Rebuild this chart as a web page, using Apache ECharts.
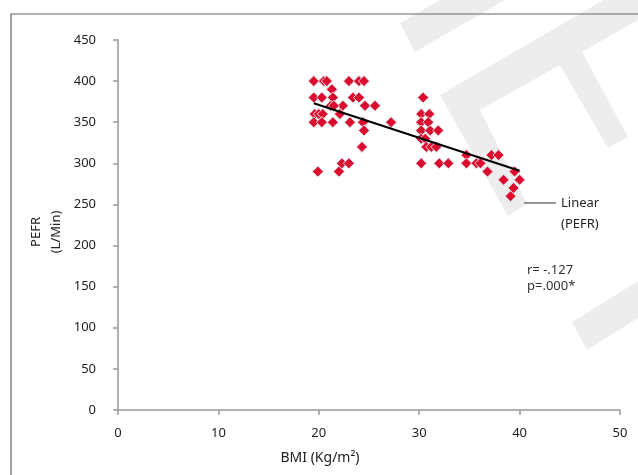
<!DOCTYPE html>
<html>
<head>
<meta charset="utf-8">
<script src="https://cdn.jsdelivr.net/npm/echarts@6/dist/echarts.min.js"></script>
<style>
html,body{margin:0;padding:0;background:#fff;}
#chart{width:638px;height:475px;}
</style>
</head>
<body>
<div id="chart"></div>
<script>
// BMI (x) and PEFR (y) values
const bmi  = [19.5,20.5,20.8,23.0,24.0,24.5,
              21.3,
              19.5,20.3,21.4,23.4,24.0,30.4,
              21.2,22.4,24.6,25.6,21.5,
              19.6,20.0,20.4,22.1,30.2,31.0,
              19.5,20.3,21.4,23.1,24.4,27.2,30.2,30.9,
              24.5,30.2,31.1,31.9,
              30.2,30.6,
              24.3,30.7,31.2,31.7,
              34.7,37.2,37.9,
              22.3,23.0,30.2,32.0,32.9,34.7,35.7,36.1,
              19.9,22.0,36.8,39.5,
              38.4,40.0,
              39.4,
              39.1];
const pefr = [400,400,400,400,400,400,
              390,
              380,380,380,380,380,380,
              370,370,370,370,370,
              360,360,360,360,360,360,
              350,350,350,350,350,350,350,350,
              340,340,340,340,
              330,330,
              320,320,320,320,
              310,310,310,
              300,300,300,300,300,300,300,300,
              290,290,290,290,
              280,280,
              270,
              260];
// Linear trend line end points
const trendX = [19.5, 40];
const trendY = [373, 291];
const xTicks = [0, 10, 20, 30, 40, 50];
const yTicks = [0, 50, 100, 150, 200, 250, 300, 350, 400, 450];

const points = bmi.map((v, i) => [v, pefr[i]]);
const trend = trendX.map((v, i) => [v, trendY[i]]);

const FONT = 'Noto Sans';
const wm = '#ededed';

const chart = echarts.init(document.getElementById('chart'), null, {renderer: 'canvas'});
chart.setOption({
  animation: false,
  backgroundColor: '#fff',
  textStyle: {fontFamily: FONT},
  grid: {left: 118, right: 18, top: 40, bottom: 65, containLabel: false},
  xAxis: {
    type: 'value', min: xTicks[0], max: xTicks[xTicks.length - 1], interval: 10,
    splitLine: {show: false},
    axisLine: {show: true, lineStyle: {color: '#999', width: 1.5}},
    axisTick: {show: true, length: 5, lineStyle: {color: '#999', width: 1.5}},
    axisLabel: {color: '#222', fontSize: 13, margin: 17, fontFamily: FONT}
  },
  yAxis: {
    type: 'value', min: yTicks[0], max: yTicks[yTicks.length - 1], interval: 50,
    splitLine: {show: false},
    axisLine: {show: true, lineStyle: {color: '#999', width: 1.5}},
    axisTick: {show: true, length: 5, lineStyle: {color: '#999', width: 1.5}},
    axisLabel: {color: '#222', fontSize: 13, margin: 22, fontFamily: FONT}
  },
  graphic: [
    {type: 'polygon', z: -10, silent: true,
     shape: {points: [[400,23],[440,0],[505,0],[415,52]]},
     style: {fill: wm}},
    {type: 'polygon', z: -10, silent: true,
     shape: {points: [[440,95],[638,-20],[638,20],[582,52],[628,137],[608,148],[560,65],[480,110],[527,204],[508,216]]},
     style: {fill: wm}},
    {type: 'polygon', z: -10, silent: true,
     shape: {points: [[572,322],[638,281],[638,318],[587,350]]},
     style: {fill: wm}},
    {type: 'rect', z: 0, silent: true,
     shape: {x: 11, y: 14, width: 800, height: 600},
     style: {fill: null, stroke: '#666', lineWidth: 1.2}},
    {type: 'line', z: 5, silent: true,
     shape: {x1: 524, y1: 203, x2: 556, y2: 203},
     style: {stroke: '#777', lineWidth: 1.5}},
    {type: 'text', z: 5, x: 561, y: 203,
     style: {text: 'Linear', fill: '#222', font: '13px "Noto Sans"', verticalAlign: 'middle', align: 'left'}},
    {type: 'text', z: 5, x: 561, y: 224,
     style: {text: '(PEFR)', fill: '#222', font: '13px "Noto Sans"', verticalAlign: 'middle', align: 'left'}},
    {type: 'text', z: 5, x: 527, y: 270,
     style: {text: 'r= -.127', fill: '#333', font: '13px "Noto Sans"', verticalAlign: 'middle', align: 'left'}},
    {type: 'text', z: 5, x: 527, y: 286,
     style: {text: 'p=.000*', fill: '#333', font: '13px "Noto Sans"', verticalAlign: 'middle', align: 'left'}},
    {type: 'text', z: 5, x: 320, y: 458,
     style: {text: 'BMI (Kg/m²)', fill: '#222', font: '14px "Noto Sans"', verticalAlign: 'middle', align: 'center'}},
    {type: 'text', z: 5, x: 46, y: 232, rotation: Math.PI / 2,
     style: {text: 'PEFR\n(L/Min)', fill: '#222', font: '13px "Noto Sans"', lineHeight: 20, verticalAlign: 'middle', align: 'center'}}
  ],
  series: [
    {
      name: 'PEFR', type: 'scatter', z: 3,
      symbol: 'diamond', symbolSize: 11,
      itemStyle: {color: '#dd0a2f', borderColor: '#e2e2e2', borderWidth: 1, opacity: 1},
      data: points
    },
    {
      name: 'Linear (PEFR)', type: 'line', z: 4,
      showSymbol: false, symbol: 'none',
      lineStyle: {color: '#000', width: 2},
      data: trend
    }
  ]
});
</script>
</body>
</html>
